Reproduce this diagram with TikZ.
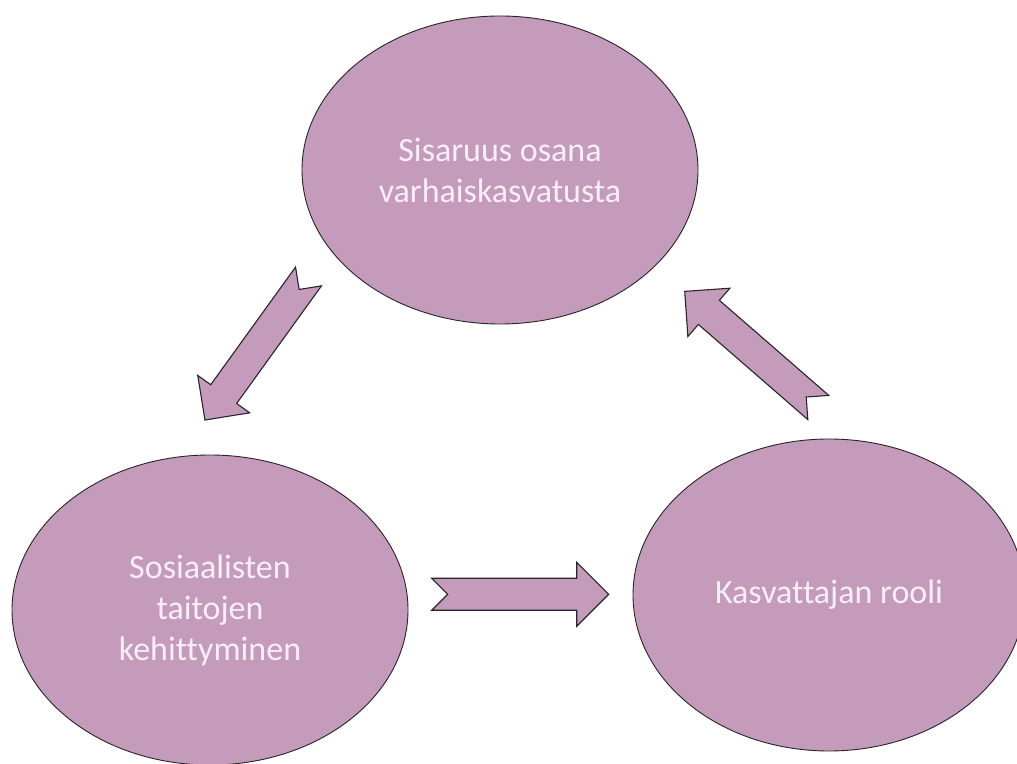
\documentclass[tikz,border=0pt]{standalone}
\usepackage{fontspec}
\setmainfont[Ligatures=NoCommon]{Carlito}
\usetikzlibrary{shapes.geometric}
\definecolor{bubble}{RGB}{197,155,188}
\definecolor{bubbletext}{RGB}{247,238,246}
\tikzset{
  bubblenode/.style={ellipse, draw=black!85, line width=0.9pt, fill=bubble, inner sep=0pt,
    text=bubbletext, align=center, font=\fontsize{34}{41}\selectfont},
  arrowshape/.style={draw=black!85, line width=1.1pt, fill=bubble, line join=miter},
  blockarrow/.pic={
    \path[arrowshape] (0,16) -- (145,16) -- (145,32) -- (177,0) -- (145,-32) -- (145,-16) -- (0,-16) -- (16,0) -- cycle;
  }
}
\begin{document}
\begin{tikzpicture}[x=1pt,y=1pt]
\path[use as bounding box, fill=white] (0,0) rectangle (1017,763);
\clip (0,0) rectangle (1017,763);
\node[bubblenode, minimum width=396pt, minimum height=308pt] (top) at (500,593) {Sisaruus osana\\varhaiskasvatusta};
\node[bubblenode, minimum width=396pt, minimum height=310pt] (left) at (210,153) {Sosiaalisten\\taitojen\\kehittyminen};
\node[bubblenode, minimum width=392pt, minimum height=312pt] (right) at (829,168) {Kasvattajan rooli};
\pic[rotate=234.2] at (308.5,486.5) {blockarrow};
\pic[rotate=139] at (818.3,355.5) {blockarrow};
\pic at (431.7,168.7) {blockarrow};
\end{tikzpicture}
\end{document}
